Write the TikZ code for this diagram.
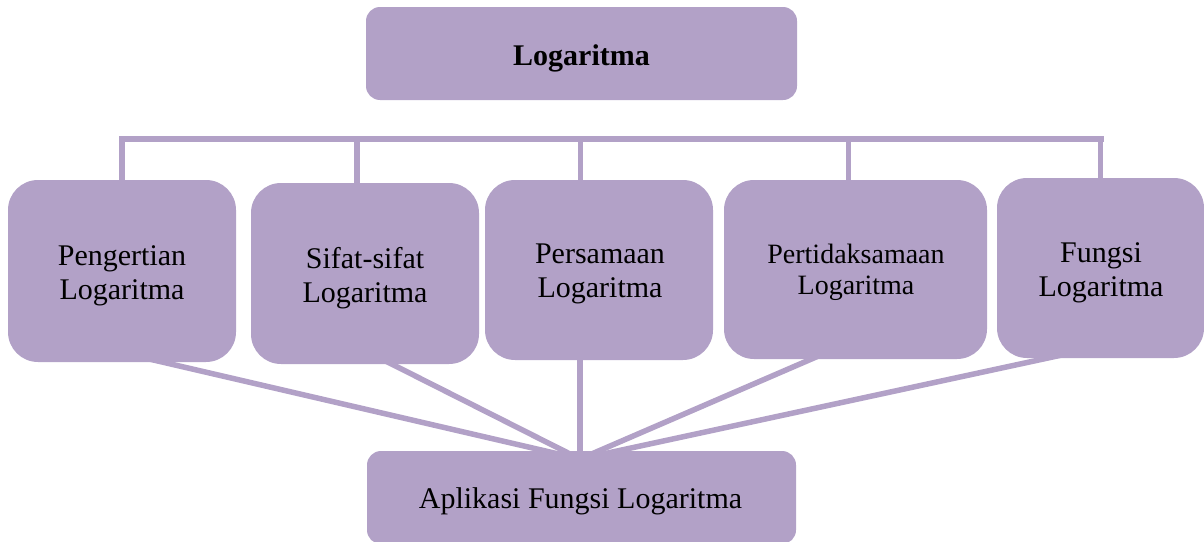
\documentclass[tikz,border=0pt]{standalone}
\usepackage{fontspec}
\setmainfont{Liberation Serif}
\usetikzlibrary{calc,backgrounds}
\definecolor{lav}{HTML}{B2A1C7}
\newcommand\myhi{\rule{0pt}{22pt}}
\newcommand\mylo{\rule[-8pt]{0pt}{8pt}}
\newcommand\myhis{\rule{0pt}{20pt}}
\newcommand\mylos{\rule[-7pt]{0pt}{7pt}}
\begin{document}
\begin{tikzpicture}[x=1pt,y=-1pt,
  box/.style={fill=lav, draw=none, rounded corners=#1, inner sep=0pt},
  conn/.style={draw=lav, line width=5.5pt},
  txt/.style={font=\fontsize{30}{34}\selectfont, align=center, inner sep=0pt, text=black},
  txts/.style={font=\fontsize{28}{31}\selectfont, align=center, inner sep=0pt, text=black}]
\useasboundingbox (0,0) rectangle (1204,541);

% boxes
\node[box=14pt, minimum width=431pt, minimum height=93pt] (top) at (581.5,53.5) {};
\node[box=30pt, minimum width=228pt, minimum height=182pt] (b1) at (122,271) {};
\node[box=30pt, minimum width=228pt, minimum height=181pt] (b2) at (365,273.5) {};
\node[box=30pt, minimum width=228pt, minimum height=180pt] (b3) at (599,270) {};
\node[box=30pt, minimum width=263pt, minimum height=179pt] (b4) at (855.5,269.5) {};
\node[box=30pt, minimum width=207pt, minimum height=180pt] (b5) at (1100.5,268) {};
\node[box=14pt, minimum width=429pt, minimum height=93pt] (app) at (581.5,497.5) {};

% texts
\node[txt, anchor=base, font=\bfseries\fontsize{30}{34}\selectfont] (ttop) at (581.5,65) {Logaritma};
\node[txt] (t1) at (122,275) {\myhi Pengertian\\Logaritma\mylo};
\node[txt] (t2) at (365,278) {\myhi Sifat-sifat\\Logaritma\mylo};
\node[txt] (t3) at (600,273) {\myhi Persamaan\\Logaritma\mylo};
\node[txts] (t4) at (856,272) {\myhis Pertidaksamaan\\Logaritma\mylos};
\node[txt] (t5) at (1101,272) {\myhi Fungsi\\Logaritma\mylo};
\node[txt, anchor=base] (tapp) at (580.5,508) {Aplikasi Fungsi Logaritma};

% connectors
\begin{scope}[on background layer]
\coordinate (busL) at (121.5,139);
\coordinate (busR) at (1101,139);
\coordinate (conv) at (580,459);
\draw[conn, line cap=rect] (busL) -- (busR);
\draw[conn] (b1.north) -- (b1.north |- busL);
\draw[conn] ([xshift=-8pt]b2.north) -- ([xshift=-8pt]b2.north |- busL);
\draw[conn] ([xshift=-18.5pt]b3.north) -- ([xshift=-18.5pt]b3.north |- busL);
\draw[conn] ([xshift=-7pt]b4.north) -- ([xshift=-7pt]b4.north |- busL);
\draw[conn] (b5.north) -- (b5.north |- busL);
\draw[conn] ($(conv)!1.1!([xshift=41pt]b1.south)$) -- (conv);
\draw[conn] ($(conv)!1.1!([xshift=27pt]b2.south)$) -- (conv);
\draw[conn] ($(conv)!1.1!([xshift=-19pt]b3.south)$) -- (conv);
\draw[conn] ($(conv)!1.1!([xshift=-44.5pt]b4.south)$) -- (conv);
\draw[conn] ($(conv)!1.1!([xshift=-53.5pt]b5.south)$) -- (conv);
\end{scope}
\end{tikzpicture}
\end{document}
